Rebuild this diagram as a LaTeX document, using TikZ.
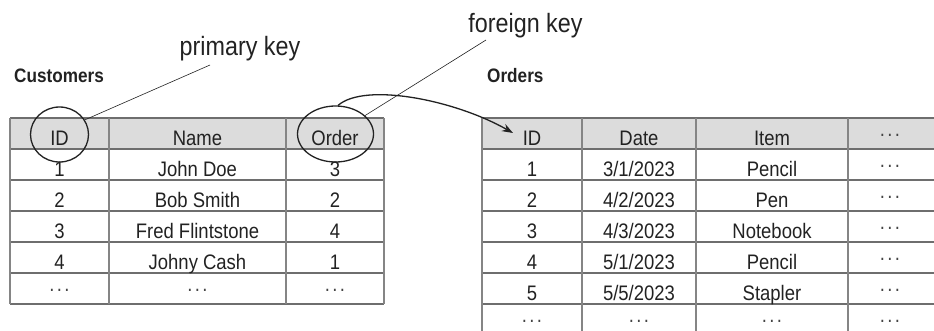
\documentclass[tikz,border=0pt]{standalone}
\usepackage{fontspec}
\setmainfont{Liberation Sans}[FakeStretch=0.88]
\usetikzlibrary{arrows.meta,shapes.geometric}
\definecolor{txt}{HTML}{222222}
\definecolor{hdr}{HTML}{DCDCDC}
\definecolor{hline}{HTML}{6E6E6E}
\definecolor{vline}{HTML}{858585}
\definecolor{dotgray}{HTML}{444444}
\newcommand\dd{\raisebox{8.5pt}{\textcolor{dotgray}{.\kern2.4pt.\kern2.4pt.}}}
\tikzset{
  cell/.style={anchor=base,inner sep=0pt,text=txt,font=\fontsize{21pt}{23pt}\selectfont},
  lbl/.style={anchor=base,inner sep=0pt,text=txt,font=\fontsize{26.5pt}{29pt}\selectfont},
  ttl/.style={anchor=base west,inner sep=0pt,text=txt,font=\fontsize{19.5pt}{22pt}\selectfont\bfseries},
  keyring/.style={ellipse,draw=txt,line width=1.3pt,inner sep=0pt},
  hl/.style={draw=hline,line width=1.3pt},
  vl/.style={draw=vline,line width=1.3pt},
  pointer/.style={draw=txt,line width=0.6pt},
  fkarrow/.style={draw=txt,line width=1.3pt,-{Stealth[length=11pt,width=8pt]}}
}
\begin{document}
\begin{tikzpicture}[x=1pt,y=-1pt]
\useasboundingbox (0,0) rectangle (934,330);
\clip (0,0) rectangle (934,330);
% ---------- Customers table ----------
\fill[hdr] (10,118) rectangle (384,149);
\foreach \yy in {118,149,180,211,242,273,304}
  \draw[hl] (10,\yy) -- (384,\yy);
\foreach \xx in {10,109,286,384}
  \draw[vl] (\xx,118) -- (\xx,304);
% ---------- Orders table ----------
\fill[hdr] (482,118) rectangle (945,149);
\foreach \yy in {118,149,180,211,242,273,304}
  \draw[hl] (482,\yy) -- (945,\yy);
\foreach \xx in {482,582,696,848}
  \draw[vl] (\xx,118) -- (\xx,345);
% ---------- titles and labels ----------
\node[ttl] (custtitle) at (14,82.7) {Customers};
\node[ttl] (ordtitle) at (487,82.7) {Orders};
\node[lbl] (pk) at (240,55) {primary key};
\node[lbl] (fk) at (525.5,32) {foreign key};
% ---------- Customers cells ----------
\node[cell] (c0a) at (59.5,145) {ID};
\node[cell] (c0b) at (197.5,145) {Name};
\node[cell] (c0c) at (335,145) {Order};
\node[cell] (c1a) at (59.5,176) {1};
\node[cell] (c1b) at (197.5,176) {John Doe};
\node[cell] (c1c) at (335,176) {3};
\node[cell] (c2a) at (59.5,207) {2};
\node[cell] (c2b) at (197.5,207) {Bob Smith};
\node[cell] (c2c) at (335,207) {2};
\node[cell] (c3a) at (59.5,238) {3};
\node[cell] (c3b) at (197.5,238) {Fred Flintstone};
\node[cell] (c3c) at (335,238) {4};
\node[cell] (c4a) at (59.5,269) {4};
\node[cell] (c4b) at (197.5,269) {Johny Cash};
\node[cell] (c4c) at (335,269) {1};
\node[cell] (c5a) at (59.5,300) {\dd};
\node[cell] (c5b) at (197.5,300) {\dd};
\node[cell] (c5c) at (335,300) {\dd};
% ---------- Orders cells ----------
\node[cell] (o0a) at (532,145) {ID};
\node[cell] (o0b) at (639,145) {Date};
\node[cell] (o0c) at (772,145) {Item};
\node[cell] (o0d) at (890,145) {\dd};
\node[cell] (o1a) at (532,176) {1};
\node[cell] (o1b) at (639,176) {3/1/2023};
\node[cell] (o1c) at (772,176) {Pencil};
\node[cell] (o1d) at (890,176) {\dd};
\node[cell] (o2a) at (532,207) {2};
\node[cell] (o2b) at (639,207) {4/2/2023};
\node[cell] (o2c) at (772,207) {Pen};
\node[cell] (o2d) at (890,207) {\dd};
\node[cell] (o3a) at (532,238) {3};
\node[cell] (o3b) at (639,238) {4/3/2023};
\node[cell] (o3c) at (772,238) {Notebook};
\node[cell] (o3d) at (890,238) {\dd};
\node[cell] (o4a) at (532,269) {4};
\node[cell] (o4b) at (639,269) {5/1/2023};
\node[cell] (o4c) at (772,269) {Pencil};
\node[cell] (o4d) at (890,269) {\dd};
\node[cell] (o5a) at (532,300) {5};
\node[cell] (o5b) at (639,300) {5/5/2023};
\node[cell] (o5c) at (772,300) {Stapler};
\node[cell] (o5d) at (890,300) {\dd};
\node[cell] (o6a) at (532,331) {\dd};
\node[cell] (o6b) at (639,331) {\dd};
\node[cell] (o6c) at (772,331) {\dd};
\node[cell] (o6d) at (890,331) {\dd};
% ---------- key rings ----------
\node[keyring,minimum width=58pt,minimum height=55pt] (pid) at (59.5,134.5) {};
\node[keyring,minimum width=76pt,minimum height=56pt] (ford) at (335.5,134) {};
% ---------- pointers ----------
\coordinate (pkend) at (210,65);
\coordinate (fkend) at (486,40);
\coordinate (oidtip) at (513,133);
\draw[pointer] (pid.30) -- (pkend);
\draw[pointer] (ford.32) -- (fkend);
\draw[fkarrow] (ford.85) .. controls (365,82) and (455,100) .. (oidtip);
\end{tikzpicture}
\end{document}
